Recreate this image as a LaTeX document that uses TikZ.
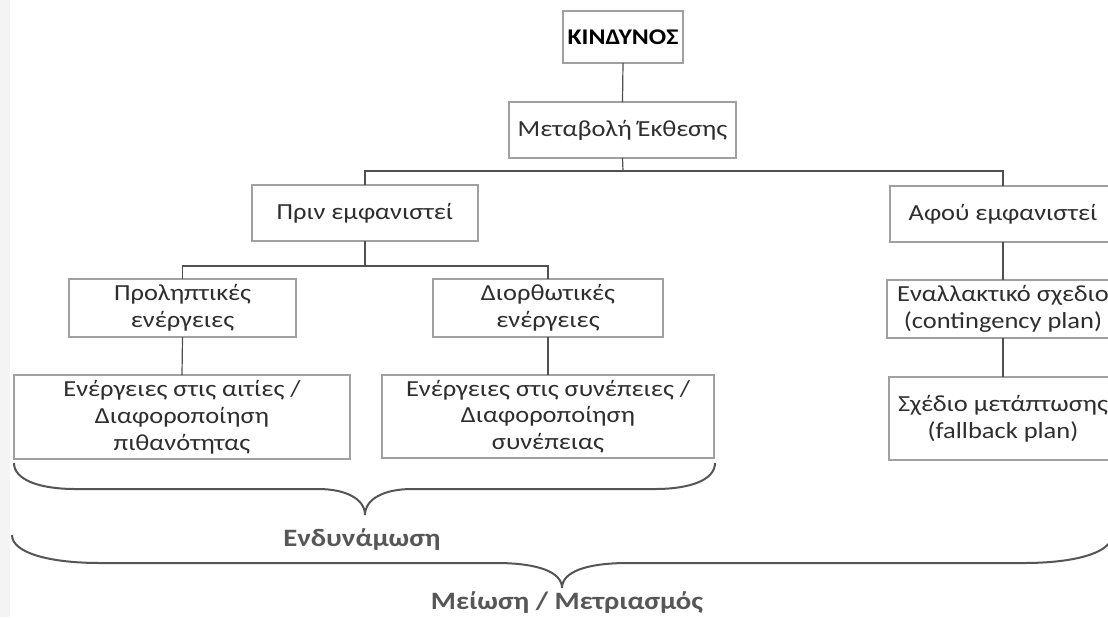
\documentclass[tikz,border=0pt]{standalone}
\usepackage{fontspec}
\setmainfont{Carlito}[FakeStretch=1.15]
\definecolor{boxline}{HTML}{A0A0A0}
\definecolor{linkline}{HTML}{505050}
\definecolor{txt}{HTML}{2E2E2E}
\definecolor{bracecol}{HTML}{555555}
\definecolor{lbl}{HTML}{575757}
\definecolor{edge}{HTML}{F4F4F4}
\tikzset{
  box/.style={draw=boxline, line width=0.6pt, fill=white, text=txt, align=center,
    font=\fontsize{11.5}{13.4}\selectfont, inner sep=0pt, outer sep=0pt},
  link/.style={draw=linkline, line width=0.6pt},
  curly/.style={draw=bracecol, line width=1pt},
  sumlabel/.style={text=lbl, font=\fontsize{12.5}{15}\selectfont\bfseries, inner sep=0pt}
}
\begin{document}
\begin{tikzpicture}[x=0.5pt, y=-0.5pt]
\useasboundingbox (0,0) rectangle (1108,617);
\clip (0,0) rectangle (1108,617);
\fill[white] (0,0) rectangle (1108,617);
\fill[edge] (0,0) rectangle (10,617);

% boxes
\node[box, minimum width=60pt, minimum height=26pt, font=\fontsize{11.2}{13.4}\selectfont\bfseries, text=black]
  (kin) at (623,37) {ΚΙΝΔΥΝΟΣ};
\node[box, minimum width=113.5pt, minimum height=28pt] (meta) at (622.5,130) {Μεταβολή Έκθεσης};
\node[box, minimum width=113pt, minimum height=28pt] (prin) at (365,213) {Πριν εμφανιστεί};
\node[box, minimum width=113pt, minimum height=28pt] (afou) at (1003,214) {Αφού εμφανιστεί};
\node[box, minimum width=113.5pt, minimum height=29pt] (prol) at (182.5,308) {Προληπτικές\\ενέργειες};
\node[box, minimum width=115pt, minimum height=29pt] (dior) at (548,308) {Διορθωτικές\\ενέργειες};
\node[box, minimum width=168pt, minimum height=42pt] (ait) at (182,417)
  {Ενέργειες στις αιτίες /\\Διαφοροποίηση\\πιθανότητας};
\node[box, minimum width=166pt, minimum height=41.5pt] (syn) at (548,416.5)
  {Ενέργειες στις συνέπειες /\\Διαφοροποίηση\\συνέπειας};
\node[box, minimum width=116pt, minimum height=29pt] (enal) at (1003,309)
  {Εναλλακτικό σχεδιο\\(contingency plan)};
\node[box, minimum width=114pt, minimum height=41.5pt] (sxed) at (1003,418.5)
  {Σχέδιο μετάπτωσης\\(fallback plan)};

% junction points of the tree
\coordinate (bar1) at (623,171);
\coordinate (bar2) at (365,266);

% connectors
\draw[link] (kin.south) -- (meta.north);
\draw[link] (meta.south) -- (bar1);
\draw[link] (prin.north) |- (bar1) -| (afou.north);
\draw[link] (prin.south) -- (bar2);
\draw[link] (prol.north) |- (bar2) -| (dior.north);
\draw[link] (prol.south) -- (ait.north);
\draw[link] (dior.south) -- (syn.north);
\draw[link] (afou.south) -- (enal.north);
\draw[link] (enal.south) -- (sxed.north);

% inner brace
\draw[curly] (14,463) .. controls (14,480) and (40,489) .. (75,489) -- (318,489)
  .. controls (346,489) and (365,499) .. (365,515)
  .. controls (365,499) and (384,489) .. (412,489) -- (655,489)
  .. controls (690,489) and (715,480) .. (715,463);
\node[sumlabel] (endyn) at (362,540) {Ενδυνάμωση};

% outer brace
\draw[curly] (12,535) .. controls (12,553) and (50,563) .. (100,563) -- (496,563)
  .. controls (538,563) and (562,572) .. (562,588)
  .. controls (562,572) and (586,563) .. (628,563) -- (1024,563)
  .. controls (1074,563) and (1112,553) .. (1112,535);
\node[sumlabel] (meiosi) at (567,603) {Μείωση / Μετριασμός};
\end{tikzpicture}
\end{document}
